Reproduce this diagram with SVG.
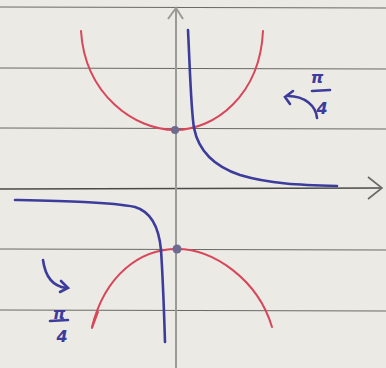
<svg xmlns="http://www.w3.org/2000/svg" width="386" height="368" viewBox="0 0 386 368">
<style>
.rule{stroke:#6a6a66;stroke-width:1.2;fill:none}
.axis{stroke:#9a9a96;stroke-width:2;fill:none}
.red{stroke:#d9465a;stroke-width:2;fill:none;stroke-linecap:round}
.blue{stroke:#3c3c9c;stroke-width:2.6;fill:none;stroke-linecap:round}
.dot{fill:#6e6a90}
.lbl{font-family:"DejaVu Sans",sans-serif;font-style:italic;font-weight:bold;font-size:16px;fill:#3c3c9c;text-anchor:middle}
</style>
<rect width="386" height="368" fill="#ebeae4"/>
<g id="ruled-lines">
<line class="rule" x1="0" y1="7" x2="386" y2="8"/>
<line class="rule" x1="0" y1="68" x2="386" y2="69"/>
<line class="rule" x1="0" y1="128" x2="386" y2="129"/>
<line class="rule" x1="0" y1="249" x2="386" y2="250"/>
<line class="rule" x1="0" y1="310" x2="386" y2="311"/>
</g>
<g id="axes">
<line x1="0" y1="189" x2="382" y2="188" stroke="#4a4a48" stroke-width="1.6"/>
<line class="axis" x1="176" y1="8" x2="176" y2="368"/>
<polyline class="axis" points="168,19 176,8 183,19"/>
<polyline fill="none" stroke="#6a6a66" stroke-width="1.6" points="368,177 382,188 368,199"/>
</g>
<g id="red-upper">
<path class="red" d="M81,31 C85,95 135,130 175,130 C215,130 260,95 263,31"/>
</g>
<g id="red-lower">
<path class="red" d="M92,327 C105,275 140,249 177,249 C214,249 258,280 272,327"/>
<path class="red" d="M92,328 L98,312" stroke-width="3.5"/>
</g>
<g id="blue-upper">
<path class="blue" d="M188,30 C190,70 191,110 194,128 C198,148 210,165 240,175 C270,184 300,185 337,186"/>
</g>
<g id="blue-lower">
<path class="blue" d="M15,200 C60,201 110,202 135,207 C152,212 159,228 161,250 C163,280 164,310 165,342"/>
</g>
<g id="points">
<circle class="dot" cx="175" cy="130" r="4"/>
<circle class="dot" cx="177" cy="249" r="4.5"/>
</g>
<g id="rotation-upper">
<path class="blue" d="M317,118 C316,106 305,96 288,96"/>
<path class="blue" d="M293,91 L285,97 L290,104"/>
<text class="lbl" x="317" y="83">π</text>
<line class="blue" x1="312" y1="91" x2="330" y2="90"/>
<text class="lbl" x="322" y="114">4</text>
</g>
<g id="rotation-lower">
<path class="blue" d="M43,260 C45,275 52,286 66,288"/>
<path class="blue" d="M61,281 L68,288 L60,292"/>
<text class="lbl" x="59" y="319">π</text>
<line class="blue" x1="50" y1="321" x2="68" y2="320"/>
<text class="lbl" x="62" y="342">4</text>
</g>
</svg>
